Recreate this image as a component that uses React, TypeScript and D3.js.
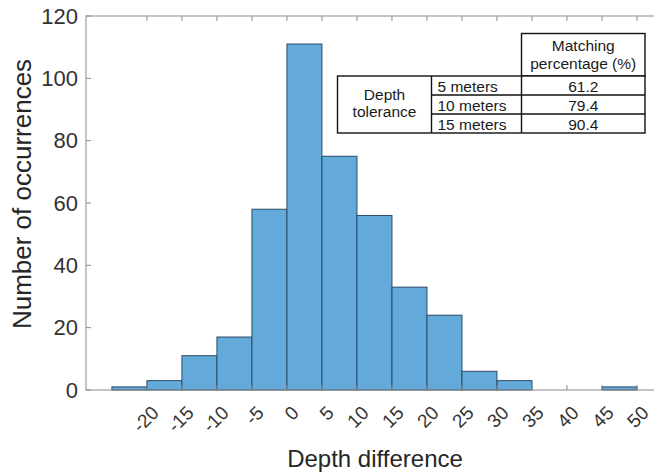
import React, {useRef, useEffect} from 'react';
import * as d3 from 'd3';

// histogram bins (left edge, width 5) and counts
const binEdges = [-25, -20, -15, -10, -5, 0, 5, 10, 15, 20, 25, 30, 35, 40, 45];
const counts = [1, 3, 11, 17, 58, 111, 75, 56, 33, 24, 6, 3, 0, 0, 1];
const xTicks = [-20, -15, -10, -5, 0, 5, 10, 15, 20, 25, 30, 35, 40, 45, 50];
const yTicks = [0, 20, 40, 60, 80, 100, 120];

// inset table
const toleranceRows = ['5 meters', '10 meters', '15 meters'];
const matchingPct = ['61.2', '79.4', '90.4'];

const BIN_W = 5;

export default function App() {
  const ref = useRef<SVGSVGElement | null>(null);

  useEffect(() => {
    const svg = d3.select(ref.current);
    svg.selectAll('*').remove();

    const font = 'Liberation Sans, Arial, sans-serif';
    const axisColor = '#8a8a8a';

    const x = d3.scaleLinear().domain([-28.7, 53]).range([86, 658]);
    const y = d3.scaleLinear().domain([0, 120]).range([390, 16]);

    const [x0, x1] = x.range();
    const [yb, yt] = y.range();

    // bars
    svg.append('g')
      .selectAll('rect')
      .data(counts)
      .enter()
      .append('rect')
      .attr('x', (d, i) => x(binEdges[i]))
      .attr('width', (d, i) => x(binEdges[i] + BIN_W) - x(binEdges[i]))
      .attr('y', d => y(d))
      .attr('height', d => y(0) - y(d))
      .attr('fill', '#63a9da')
      .attr('stroke', '#2b4b68')
      .attr('stroke-width', 1);

    // box
    svg.append('rect')
      .attr('x', x0)
      .attr('y', yt)
      .attr('width', x1 - x0)
      .attr('height', yb - yt)
      .attr('fill', 'none')
      .attr('stroke', axisColor)
      .attr('stroke-width', 1);

    // x ticks (inside, top and bottom)
    const xt = svg.append('g');
    xTicks.forEach(t => {
      xt.append('line')
        .attr('x1', x(t)).attr('x2', x(t))
        .attr('y1', yb).attr('y2', yb - 5)
        .attr('stroke', axisColor);
      xt.append('line')
        .attr('x1', x(t)).attr('x2', x(t))
        .attr('y1', yt).attr('y2', yt + 5)
        .attr('stroke', axisColor);
      xt.append('text')
        .attr('transform', `translate(${x(t) + 13},${yb + 24}) rotate(-45)`)
        .attr('text-anchor', 'end')
        .attr('font-family', font)
        .attr('font-size', 19)
        .attr('fill', '#333')
        .text(t);
    });

    // y ticks
    const yg = svg.append('g');
    yTicks.forEach(t => {
      yg.append('line')
        .attr('x1', x0).attr('x2', x0 + 5)
        .attr('y1', y(t)).attr('y2', y(t))
        .attr('stroke', axisColor);
      yg.append('text')
        .attr('x', x0 - 8)
        .attr('y', y(t))
        .attr('dy', '0.35em')
        .attr('text-anchor', 'end')
        .attr('font-family', font)
        .attr('font-size', 22)
        .attr('fill', '#333')
        .text(t);
    });

    // axis labels
    svg.append('text')
      .attr('x', 375)
      .attr('y', 467)
      .attr('text-anchor', 'middle')
      .attr('font-family', font)
      .attr('font-size', 24)
      .attr('fill', '#262626')
      .text('Depth difference');

    svg.append('text')
      .attr('transform', 'translate(31,194) rotate(-90)')
      .attr('text-anchor', 'middle')
      .attr('font-family', font)
      .attr('font-size', 26)
      .attr('fill', '#262626')
      .text('Number of occurrences');

    // table
    const tb = svg.append('g')
      .attr('font-family', font)
      .attr('font-size', 15.5)
      .attr('fill', '#1a1a1a');
    const c0 = 337.5, c1 = 431.5, c2 = 521.5, c3 = 645;
    const rTop = 33.5, rHead = 76;
    const rowH = 19;
    const line = (a: number, b: number, c: number, d: number) =>
      tb.append('line')
        .attr('x1', a).attr('y1', b).attr('x2', c).attr('y2', d)
        .attr('stroke', '#111').attr('stroke-width', 1.4);

    tb.append('rect')
      .attr('x', c2).attr('y', rTop).attr('width', c3 - c2).attr('height', rHead - rTop)
      .attr('fill', '#fff').attr('stroke', '#111').attr('stroke-width', 1.4);
    tb.append('rect')
      .attr('x', c0).attr('y', rHead).attr('width', c3 - c0).attr('height', rowH * toleranceRows.length)
      .attr('fill', '#fff').attr('stroke', '#111').attr('stroke-width', 1.4);
    line(c1, rHead, c1, rHead + rowH * toleranceRows.length);
    line(c2, rHead, c2, rHead + rowH * toleranceRows.length);
    for (let i = 1; i < toleranceRows.length; i++) {
      line(c1, rHead + rowH * i, c3, rHead + rowH * i);
    }

    tb.append('text').attr('x', (c2 + c3) / 2).attr('y', 51)
      .attr('text-anchor', 'middle').text('Matching');
    tb.append('text').attr('x', (c2 + c3) / 2).attr('y', 68.5)
      .attr('text-anchor', 'middle').text('percentage (%)');
    tb.append('text').attr('x', (c0 + c1) / 2).attr('y', 100)
      .attr('text-anchor', 'middle').text('Depth');
    tb.append('text').attr('x', (c0 + c1) / 2).attr('y', 117)
      .attr('text-anchor', 'middle').text('tolerance');

    toleranceRows.forEach((r, i) => {
      const by = rHead + rowH * i + 15.5;
      tb.append('text').attr('x', c1 + 6).attr('y', by).text(r);
      tb.append('text').attr('x', (c2 + c3) / 2).attr('y', by)
        .attr('text-anchor', 'middle').text(matchingPct[i]);
    });
  }, []);

  return (
    <svg
      ref={ref}
      width={654}
      height={473}
      style={{position: 'absolute', left: 0, top: 0, background: '#fff'}}
    />
  );
}
